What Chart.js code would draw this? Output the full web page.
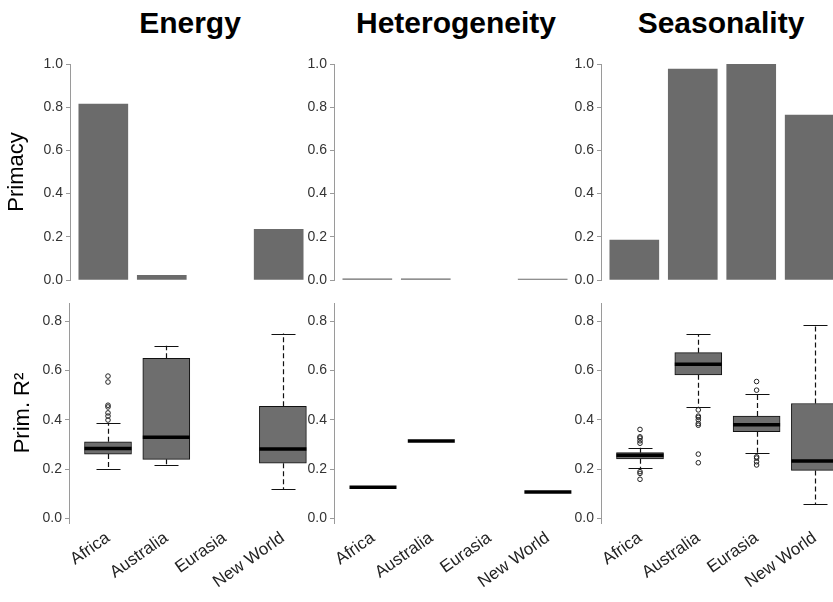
<!DOCTYPE html>
<html><head><meta charset="utf-8">
<script src="https://cdn.jsdelivr.net/npm/chart.js@4.4.1/dist/chart.umd.min.js"></script>
<style>
html,body{margin:0;padding:0;background:#fff;width:833px;height:602px;overflow:hidden;position:relative;font-family:'Liberation Sans',Arial,sans-serif;}
canvas{position:absolute;}
.ttl{position:absolute;top:8px;font-weight:bold;font-size:30px;line-height:30px;color:#000;transform:translateX(-50%);white-space:nowrap;}
</style></head><body>
<script>
// ---------------- data ----------------
const categories = ['Africa', 'Australia', 'Eurasia', 'New World'];
const panelTitles = ['Energy', 'Heterogeneity', 'Seasonality'];
const primacyTicks = [0, 0.2, 0.4, 0.6, 0.8, 1.0];
const r2Ticks = [0, 0.2, 0.4, 0.6, 0.8];

const primacyEnergy = [0.815, 0.022, 0, 0.235];
const primacyHeterogeneity = [0.005, 0.005, 0, 0.004];
const primacySeasonality = [0.185, 0.977, 1.0, 0.764];

// [lower whisker, Q1, median, Q3, upper whisker]; null = no data
const r2EnergyBox = [[0.200, 0.261, 0.284, 0.311, 0.385], [0.218, 0.240, 0.329, 0.649, 0.700], null, [0.119, 0.224, 0.282, 0.455, 0.749]];
const r2EnergyOutliers = [[0.577, 0.553, 0.459, 0.452, 0.428, 0.415, 0.399], [], [], []];
const r2HeterogeneityBox = [[0.127, 0.127, 0.127, 0.127, 0.127], [0.314, 0.314, 0.314, 0.314, 0.314], null, [0.108, 0.108, 0.108, 0.108, 0.108]];
const r2HeterogeneityOutliers = [[], [], [], []];
const r2SeasonalityBox = [[0.205, 0.242, 0.256, 0.267, 0.287], [0.450, 0.582, 0.625, 0.672, 0.747], [0.265, 0.352, 0.380, 0.415, 0.505], [0.057, 0.195, 0.233, 0.466, 0.783]];
const r2SeasonalityOutliers = [[0.361, 0.331, 0.326, 0.315, 0.305, 0.190, 0.183, 0.159], [0.440, 0.415, 0.410, 0.400, 0.385, 0.378, 0.261, 0.226], [0.555, 0.520, 0.250, 0.245, 0.230, 0.217], []];

// ---------------- layout / style ----------------
Chart.defaults.font.family = "'Liberation Sans', Arial, sans-serif";
const topAxisX = [70, 334, 601];
const botAxisX = [69, 334, 601];
const titleCenters = [190, 456, 721];
const AXIS_GREY = '#9a9a9a';
const BAR_GREY = '#6b6b6b';

panelTitles.forEach((t, i) => {
  const d = document.createElement('div');
  d.className = 'ttl'; d.textContent = t; d.style.left = titleCenters[i] + 'px';
  document.body.appendChild(d);
});

function addCanvas(left, top, w, h) {
  const c = document.createElement('canvas');
  c.width = w; c.height = h;
  c.style.left = left + 'px'; c.style.top = top + 'px';
  c.style.width = w + 'px'; c.style.height = h + 'px';
  document.body.appendChild(c);
  return c;
}

function yAxis(min, max, ticks, yW, title, titlePad) {
  return {
    min: min, max: max,
    afterBuildTicks: s => { s.ticks = ticks.map(v => ({ value: v })); },
    afterFit: s => { s.width = yW; },
    border: { display: true, color: AXIS_GREY, width: 1 },
    grid: { display: true, drawOnChartArea: false, drawTicks: true, tickLength: 4, tickColor: AXIS_GREY, color: AXIS_GREY },
    ticks: { callback: v => Number(v).toFixed(1), color: '#333', font: { size: 14 }, padding: 3 },
    title: { display: !!title, text: title || '', font: { size: 22 }, color: '#000', padding: { top: titlePad || 4, bottom: 0 } }
  };
}

function makeTop(idx, values) {
  const yW = idx === 0 ? 70 : 40;
  const c = addCanvas(topAxisX[idx] - yW, 44, yW + 242, 250);
  const pts = [];
  values.forEach((v, i) => { if (v > 0) pts.push({ x: 0.7 + 1.2 * i, y: v }); });
  new Chart(c, {
    type: 'bar',
    data: {
      datasets: [{
        data: pts,
        backgroundColor: BAR_GREY, borderWidth: 0, barThickness: 49
      }]
    },
    options: {
      responsive: false, animation: false, devicePixelRatio: 1,
      layout: { padding: { top: 20, bottom: 14, left: 0, right: 0 } },
      plugins: { legend: { display: false }, tooltip: { enabled: false } },
      scales: {
        x: { type: 'linear', display: false, offset: false, min: 0.016, max: 4.984 },
        y: yAxis(0, 1, primacyTicks, yW, idx === 0 ? 'Primacy' : null, 4)
      }
    }
  });
}

const boxExtras = {
  id: 'boxExtras',
  beforeDatasetsDraw(chart, args, opts) {
    const { ctx } = chart; const x = chart.scales.x, y = chart.scales.y;
    ctx.save();
    ctx.strokeStyle = '#111'; ctx.lineWidth = 1.2;
    opts.boxes.forEach((b, i) => {
      if (!b || b[0] === b[4]) return;
      const px = Math.round(x.getPixelForValue(i + 1)) + 0.5;
      ctx.setLineDash([5, 3]);
      ctx.beginPath();
      ctx.moveTo(px, y.getPixelForValue(b[3])); ctx.lineTo(px, y.getPixelForValue(b[4]));
      ctx.moveTo(px, y.getPixelForValue(b[1])); ctx.lineTo(px, y.getPixelForValue(b[0]));
      ctx.stroke();
      ctx.setLineDash([]);
      ctx.beginPath();
      [b[0], b[4]].forEach(v => {
        const py = Math.round(y.getPixelForValue(v)) + 0.5;
        ctx.moveTo(px - 12, py); ctx.lineTo(px + 12, py);
      });
      ctx.stroke();
    });
    ctx.restore();
  },
  afterDatasetsDraw(chart, args, opts) {
    const { ctx } = chart; const x = chart.scales.x, y = chart.scales.y;
    ctx.save();
    ctx.strokeStyle = '#000'; ctx.lineWidth = 3.5; ctx.lineCap = 'butt';
    opts.boxes.forEach((b, i) => {
      if (!b) return;
      const px = x.getPixelForValue(i + 1);
      const py = y.getPixelForValue(b[2]);
      ctx.beginPath(); ctx.moveTo(px - 23.5, py); ctx.lineTo(px + 23.5, py); ctx.stroke();
    });
    ctx.restore();
  }
};

function makeBottom(idx, boxes, outliers) {
  const yW = idx === 0 ? 69 : 40;
  const c = addCanvas(botAxisX[idx] - yW, 283, yW + 252, 319);
  const boxData = [];
  boxes.forEach((b, i) => { if (b) boxData.push({ x: i + 1, y: [b[1], b[3]] }); });
  const outData = [];
  outliers.forEach((arr, i) => arr.forEach(v => outData.push({ x: i + 1, y: v })));
  new Chart(c, {
    type: 'bar',
    data: {
      datasets: [
        { type: 'bar', data: boxData, backgroundColor: '#6e6e6e', borderColor: '#111', borderWidth: 1, borderSkipped: false, barThickness: 47 },
        { type: 'scatter', data: outData, pointRadius: 2.3, pointBorderWidth: 1, borderColor: '#222', backgroundColor: 'rgba(255,255,255,0)', pointHoverRadius: 2.3 }
      ]
    },
    plugins: [boxExtras],
    options: {
      responsive: false, animation: false, devicePixelRatio: 1,
      layout: { padding: { top: 20, bottom: 0, left: 0, right: 12 } },
      plugins: { legend: { display: false }, tooltip: { enabled: false }, boxExtras: { boxes: boxes } },
      scales: {
        x: {
          type: 'linear', offset: false, min: 0.331, max: 4.448,
          afterBuildTicks: s => { s.ticks = categories.map((cName, i) => ({ value: i + 1 })); },
          afterFit: s => { s.height = 79; },
          grid: { display: false, drawTicks: false },
          border: { display: false },
          ticks: { callback: v => categories[Math.round(v) - 1], autoSkip: false, maxRotation: 35, minRotation: 35, color: '#222', font: { size: 17 }, padding: 5 }
        },
        y: yAxis(-0.018, 0.873, r2Ticks, yW, idx === 0 ? 'Prim. R\u00B2' : null, 10)
      }
    }
  });
}

makeTop(0, primacyEnergy);
makeTop(1, primacyHeterogeneity);
makeTop(2, primacySeasonality);
makeBottom(0, r2EnergyBox, r2EnergyOutliers);
makeBottom(1, r2HeterogeneityBox, r2HeterogeneityOutliers);
makeBottom(2, r2SeasonalityBox, r2SeasonalityOutliers);
</script>
</body></html>
